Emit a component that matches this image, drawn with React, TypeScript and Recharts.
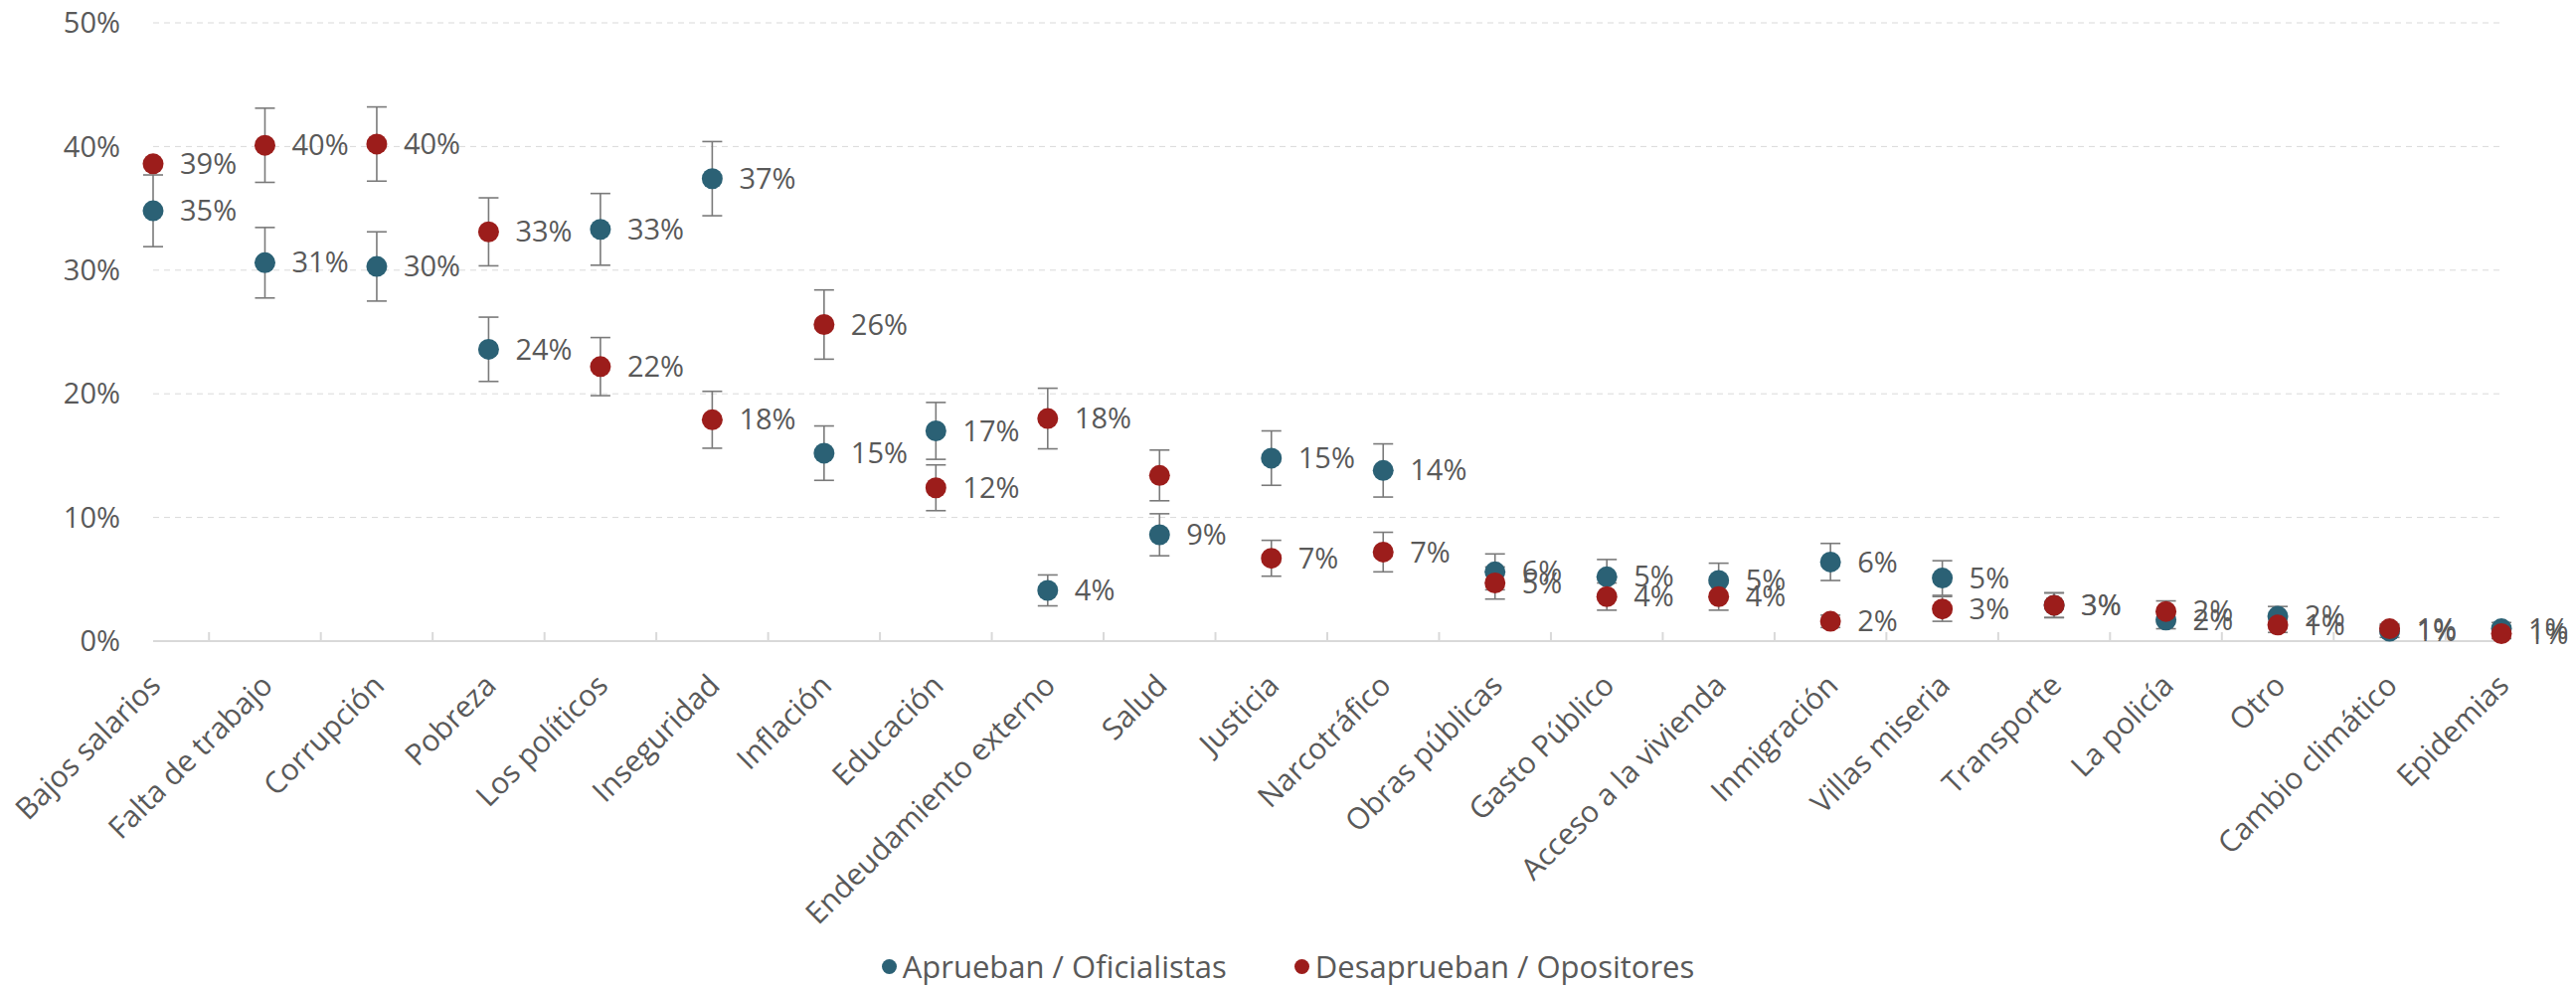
import { ScatterChart, Scatter, XAxis, YAxis, CartesianGrid, ErrorBar } from "recharts";

const categorias = [
  "Bajos salarios", "Falta de trabajo", "Corrupción", "Pobreza", "Los políticos", "Inseguridad",
  "Inflación", "Educación", "Endeudamiento externo", "Salud", "Justicia", "Narcotráfico",
  "Obras públicas", "Gasto Público", "Acceso a la vivienda", "Inmigración", "Villas miseria",
  "Transporte", "La policía", "Otro", "Cambio climático", "Epidemias",
];

const aprueban = [34.8, 30.6, 30.3, 23.6, 33.3, 37.4, 15.2, 17.0, 4.1, 8.6, 14.8, 13.8, 5.6, 5.2, 4.9, 6.4, 5.1, 2.9, 1.7, 2.0, 0.8, 1.0];
const desaprueban = [38.6, 40.1, 40.2, 33.1, 22.2, 17.9, 25.6, 12.4, 18.0, 13.4, 6.7, 7.2, 4.7, 3.6, 3.6, 1.6, 2.6, 2.9, 2.4, 1.3, 1.0, 0.6];
const errorAprueban = [2.9, 2.85, 2.8, 2.6, 2.9, 3.0, 2.2, 2.3, 1.25, 1.7, 2.2, 2.15, 1.45, 1.4, 1.4, 1.5, 1.4, 1.0, 0.7, 0.8, 0.5, 0.5];
const errorDesaprueban = [0, 3.0, 3.0, 2.75, 2.35, 2.3, 2.8, 1.85, 2.45, 2.05, 1.45, 1.6, 1.3, 1.1, 1.1, 0.5, 1.0, 1.0, 0.85, 0.6, 0.4, 0.4];
// el gráfico original no muestra la etiqueta de estos puntos
const desapruebanSinEtiqueta = ["Salud"];

const yTicks = [0, 10, 20, 30, 40, 50];

const AZUL = "#2b6175";
const ROJO = "#9c1d1b";
const GRIS = "#595959";
const FONT = '"Segoe UI", "Open Sans", sans-serif';

const W = 2591;
const H = 992;
const MARGIN = { top: 23, right: 75, left: 0, bottom: 47 };
const Y_AXIS_W = 154;
// mitad del paso entre categorías: las marcas del eje caen entre puntos
const halfStep = (W - MARGIN.right - MARGIN.left - Y_AXIS_W) / (categorias.length - 1) / 2;

const dataAprueban = categorias.map((name, i) => ({ name, x: i, y: aprueban[i], err: errorAprueban[i] }));
const dataDesaprueban = categorias.map((name, i) => ({ name, x: i, y: desaprueban[i], err: errorDesaprueban[i] }));

const makeDot = (color: string, hidden: string[]) => (props: any) => {
  const { cx, cy, payload } = props;
  if (cx == null || cy == null) return null;
  return (
    <g>
      <circle cx={cx} cy={cy} r={10.5} fill={color} />
      {!hidden.includes(payload.name) && (
        <text x={cx + 27} y={cy} dy="0.35em" fill={GRIS} fontSize={29} fontFamily={FONT}>
          {`${Math.round(payload.y)}%`}
        </text>
      )}
    </g>
  );
};

const CategoryTick = ({ x, y, payload, index }: any) => (
  <g>
    {index < categorias.length - 1 && (
      <line x1={x + halfStep} x2={x + halfStep} y1={y} y2={y - 9} stroke="#d9d9d9" strokeWidth={2} />
    )}
    <text
      transform={`translate(${x + 2}, ${y + 39}) rotate(-45)`}
      textAnchor="end"
      dy="0.35em"
      fill={GRIS}
      fontSize={30}
      fontFamily={FONT}
    >
      {categorias[payload.value]}
    </text>
  </g>
);

export default function App() {
  return (
    <div style={{ position: "absolute", left: 0, top: 0, width: W, height: H, background: "#fff", fontFamily: FONT }}>
      <ScatterChart width={W} height={H} margin={MARGIN}>
        <CartesianGrid vertical={false} stroke="#d9d9d9" strokeDasharray="6 5" />
        <XAxis
          type="number"
          dataKey="x"
          domain={[0, categorias.length - 1]}
          ticks={categorias.map((_, i) => i)}
          interval={0}
          tick={<CategoryTick />}
          tickLine={false}
          tickSize={0}
          tickMargin={0}
          axisLine={{ stroke: "#d9d9d9", strokeWidth: 2 }}
          height={300}
        />
        <YAxis
          type="number"
          dataKey="y"
          domain={[0, 50]}
          ticks={yTicks}
          width={Y_AXIS_W}
          axisLine={false}
          tickLine={false}
          tickSize={0}
          tickMargin={33}
          tickFormatter={(v: number) => `${v}%`}
          tick={{ fill: GRIS, fontSize: 29, fontFamily: FONT }}
        />
        <Scatter
          name="Aprueban / Oficialistas"
          data={dataAprueban}
          fill={AZUL}
          shape={makeDot(AZUL, [])}
          isAnimationActive={false}
        >
          <ErrorBar dataKey="err" direction="y" width={10} stroke="#7a7a7a" strokeWidth={1.6} isAnimationActive={false} />
        </Scatter>
        <Scatter
          name="Desaprueban / Opositores"
          data={dataDesaprueban}
          fill={ROJO}
          shape={makeDot(ROJO, desapruebanSinEtiqueta)}
          isAnimationActive={false}
        >
          <ErrorBar dataKey="err" direction="y" width={10} stroke="#7a7a7a" strokeWidth={1.6} isAnimationActive={false} />
        </Scatter>
      </ScatterChart>
      <div
        style={{
          position: "absolute", left: 0, top: 952, width: W, display: "flex", justifyContent: "center",
          gap: 68, fontSize: 31, color: GRIS, lineHeight: "40px",
        }}
      >
        {[["Aprueban / Oficialistas", AZUL], ["Desaprueban / Opositores", ROJO]].map(([label, color]) => (
          <div key={label} style={{ display: "flex", alignItems: "center", gap: 6 }}>
            <span style={{ width: 15, height: 15, borderRadius: "50%", background: color, display: "inline-block" }} />
            <span>{label}</span>
          </div>
        ))}
      </div>
    </div>
  );
}
